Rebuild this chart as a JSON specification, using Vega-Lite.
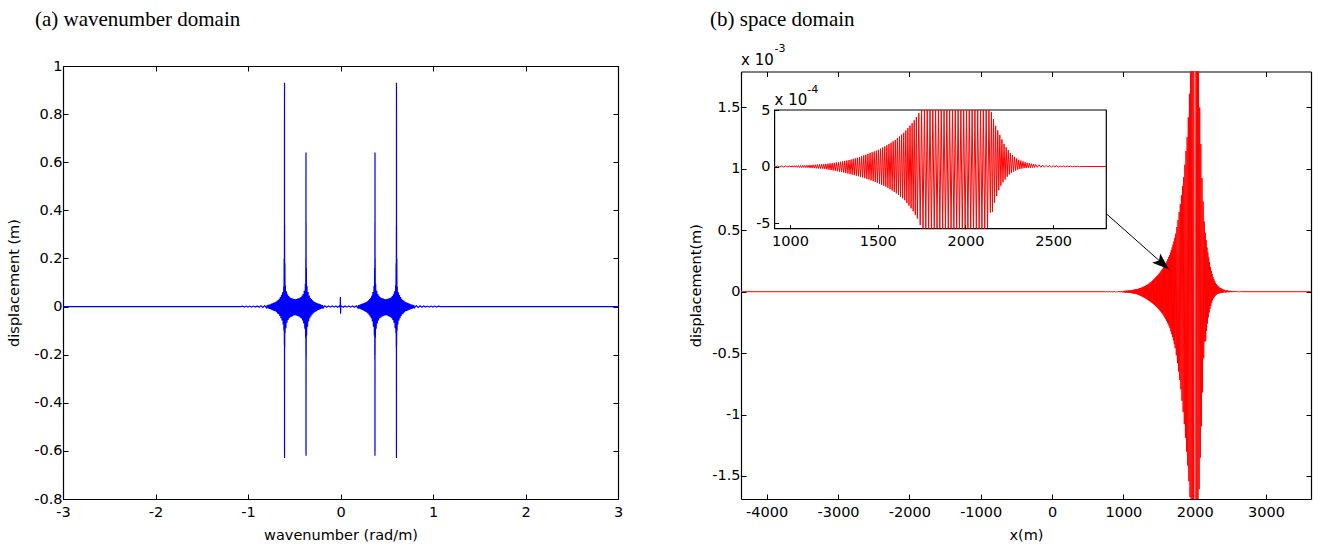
{
"$schema": "https://vega.github.io/schema/vega-lite/v6.json",
"background": "white",
"padding": {"left": 6, "top": 8, "right": 5, "bottom": 5},
"spacing": 65,
"config": {
 "view": {"stroke": null},
 "axis": {"grid": false, "domainColor": "#000", "domainWidth": 1.2, "tickColor": "#000", "tickWidth": 1, "tickSize": -5, "labelFont": "DejaVu Sans", "labelFontSize": 14.5, "labelColor": "#000", "labelFlush": false, "labelOverlap": false, "titleFont": "DejaVu Sans", "titleFontSize": 14.5, "titleFontWeight": "normal", "titleColor": "#000"},
 "axisX": {"labelPadding": 11, "titlePadding": 10},
 "axisY": {"labelPadding": 6},
 "title": {"anchor": "start", "frame": "group", "font": "Liberation Serif", "fontSize": 21, "fontWeight": "normal", "color": "#000"},
 "text": {"font": "DejaVu Sans", "color": "#000"}
},
"datasets": {
 "blue": [
  {"k":-3,"d":0},{"k":-1.08,"d":0},
  {"k":-1.06,"d":0.002},{"k":-1.04,"d":-0.002},{"k":-1.02,"d":0.002},{"k":-1.0,"d":-0.002},{"k":-0.98,"d":0.002},{"k":-0.96,"d":-0.002},{"k":-0.94,"d":0.002},{"k":-0.92,"d":-0.002},{"k":-0.9,"d":0.0025},{"k":-0.88,"d":-0.003},{"k":-0.86,"d":0.003},{"k":-0.84,"d":-0.0035},{"k":-0.82,"d":0.004},{"k":-0.8,"d":-0.0045},
  {"k":-0.794,"d":0.005},{"k":-0.788,"d":-0.0066},{"k":-0.782,"d":0.007},{"k":-0.776,"d":-0.0083},{"k":-0.77,"d":0.008},{"k":-0.764,"d":-0.0099},{"k":-0.758,"d":0.0095},{"k":-0.752,"d":-0.0116},{"k":-0.746,"d":0.012},{"k":-0.74,"d":-0.0143},{"k":-0.734,"d":0.014},{"k":-0.728,"d":-0.0165},{"k":-0.722,"d":0.016},{"k":-0.716,"d":-0.0187},{"k":-0.71,"d":0.0175},{"k":-0.704,"d":-0.0198},{"k":-0.698,"d":0.02},{"k":-0.692,"d":-0.0231},{"k":-0.686,"d":0.024},{"k":-0.68,"d":-0.0286},{"k":-0.674,"d":0.027},{"k":-0.668,"d":-0.0319},{"k":-0.662,"d":0.032},{"k":-0.656,"d":-0.0396},{"k":-0.65,"d":0.04},{"k":-0.644,"d":-0.0484},{"k":-0.638,"d":0.048},{"k":-0.632,"d":-0.0583},{"k":-0.626,"d":0.059},{"k":-0.62,"d":-0.0748},{"k":-0.614,"d":0.082},
  {"k":-0.612,"d":-0.1},{"k":-0.609,"d":0.2},{"k":-0.607,"d":-0.16},{"k":-0.606,"d":0.35},{"k":-0.6054,"d":0.9},{"k":-0.6052,"d":-0.6},{"k":-0.605,"d":0.93},{"k":-0.6048,"d":-0.63},{"k":-0.604,"d":0.34},{"k":-0.603,"d":-0.17},{"k":-0.601,"d":0.18},{"k":-0.599,"d":-0.11},
  {"k":-0.596,"d":0.088},{"k":-0.59,"d":-0.09},{"k":-0.584,"d":0.064},{"k":-0.578,"d":-0.067},{"k":-0.572,"d":0.051},{"k":-0.566,"d":-0.056},{"k":-0.56,"d":0.044},{"k":-0.554,"d":-0.049},{"k":-0.548,"d":0.039},{"k":-0.542,"d":-0.044},{"k":-0.536,"d":0.036},{"k":-0.53,"d":-0.042},{"k":-0.524,"d":0.034},{"k":-0.518,"d":-0.04},{"k":-0.512,"d":0.032},{"k":-0.506,"d":-0.037},{"k":-0.5,"d":0.031},{"k":-0.494,"d":-0.036},{"k":-0.488,"d":0.03},{"k":-0.482,"d":-0.037},{"k":-0.476,"d":0.031},{"k":-0.47,"d":-0.038},{"k":-0.464,"d":0.033},{"k":-0.458,"d":-0.04},{"k":-0.452,"d":0.034},{"k":-0.446,"d":-0.042},{"k":-0.44,"d":0.037},{"k":-0.434,"d":-0.046},{"k":-0.428,"d":0.04},{"k":-0.422,"d":-0.05},{"k":-0.416,"d":0.045},{"k":-0.41,"d":-0.058},{"k":-0.404,"d":0.052},{"k":-0.398,"d":-0.07},{"k":-0.392,"d":0.066},{"k":-0.386,"d":-0.092},{"k":-0.38,"d":0.095},
  {"k":-0.377,"d":-0.13},{"k":-0.375,"d":0.2},{"k":-0.374,"d":-0.2},{"k":-0.3735,"d":0.36},{"k":-0.3732,"d":0.62},{"k":-0.3731,"d":-0.6},{"k":-0.373,"d":0.64},{"k":-0.3725,"d":-0.62},{"k":-0.372,"d":0.35},{"k":-0.371,"d":-0.22},{"k":-0.369,"d":0.16},{"k":-0.366,"d":-0.12},
  {"k":-0.362,"d":0.085},{"k":-0.356,"d":-0.084},{"k":-0.35,"d":0.06},{"k":-0.344,"d":-0.062},{"k":-0.338,"d":0.046},{"k":-0.332,"d":-0.049},{"k":-0.326,"d":0.037},{"k":-0.32,"d":-0.041},{"k":-0.314,"d":0.031},{"k":-0.308,"d":-0.034},{"k":-0.302,"d":0.026},{"k":-0.296,"d":-0.029},{"k":-0.29,"d":0.022},{"k":-0.284,"d":-0.025},{"k":-0.278,"d":0.019},{"k":-0.272,"d":-0.021},{"k":-0.266,"d":0.017},{"k":-0.26,"d":-0.019},{"k":-0.254,"d":0.015},{"k":-0.248,"d":-0.016},{"k":-0.242,"d":0.013},{"k":-0.236,"d":-0.014},{"k":-0.23,"d":0.011},{"k":-0.224,"d":-0.012},{"k":-0.218,"d":0.009},{"k":-0.212,"d":-0.01},{"k":-0.206,"d":0.007},{"k":-0.2,"d":-0.008},{"k":-0.194,"d":0.006},{"k":-0.188,"d":-0.006},
  {"k":-0.17,"d":0.003},{"k":-0.15,"d":-0.003},{"k":-0.13,"d":0.0025},{"k":-0.11,"d":-0.0025},{"k":-0.09,"d":0.0025},{"k":-0.07,"d":-0.0025},{"k":-0.05,"d":0.0025},{"k":-0.03,"d":-0.0025},{"k":-0.012,"d":0.0025},
  {"k":-0.004,"d":-0.003},{"k":-0.001,"d":0.04},{"k":0.001,"d":-0.03},{"k":0.004,"d":0.003},
  {"k":0.012,"d":0.0025},{"k":0.03,"d":-0.0025},{"k":0.05,"d":0.0025},{"k":0.07,"d":-0.0025},{"k":0.09,"d":0.0025},{"k":0.11,"d":-0.0025},{"k":0.13,"d":0.0025},{"k":0.15,"d":-0.003},{"k":0.17,"d":0.003},
  {"k":0.188,"d":-0.006},{"k":0.194,"d":0.006},{"k":0.2,"d":-0.008},{"k":0.206,"d":0.007},{"k":0.212,"d":-0.01},{"k":0.218,"d":0.009},{"k":0.224,"d":-0.012},{"k":0.23,"d":0.011},{"k":0.236,"d":-0.014},{"k":0.242,"d":0.013},{"k":0.248,"d":-0.016},{"k":0.254,"d":0.015},{"k":0.26,"d":-0.019},{"k":0.266,"d":0.017},{"k":0.272,"d":-0.021},{"k":0.278,"d":0.019},{"k":0.284,"d":-0.025},{"k":0.29,"d":0.022},{"k":0.296,"d":-0.029},{"k":0.302,"d":0.026},{"k":0.308,"d":-0.034},{"k":0.314,"d":0.031},{"k":0.32,"d":-0.041},{"k":0.326,"d":0.037},{"k":0.332,"d":-0.049},{"k":0.338,"d":0.046},{"k":0.344,"d":-0.062},{"k":0.35,"d":0.06},{"k":0.356,"d":-0.084},{"k":0.362,"d":0.085},
  {"k":0.366,"d":-0.12},{"k":0.369,"d":0.16},{"k":0.371,"d":-0.22},{"k":0.372,"d":0.35},{"k":0.3725,"d":-0.62},{"k":0.373,"d":0.64},{"k":0.3731,"d":-0.6},{"k":0.3732,"d":0.62},{"k":0.3735,"d":0.36},{"k":0.374,"d":-0.2},{"k":0.375,"d":0.2},{"k":0.377,"d":-0.13},
  {"k":0.38,"d":0.095},{"k":0.386,"d":-0.092},{"k":0.392,"d":0.066},{"k":0.398,"d":-0.07},{"k":0.404,"d":0.052},{"k":0.41,"d":-0.058},{"k":0.416,"d":0.045},{"k":0.422,"d":-0.05},{"k":0.428,"d":0.04},{"k":0.434,"d":-0.046},{"k":0.44,"d":0.037},{"k":0.446,"d":-0.042},{"k":0.452,"d":0.034},{"k":0.458,"d":-0.04},{"k":0.464,"d":0.033},{"k":0.47,"d":-0.038},{"k":0.476,"d":0.031},{"k":0.482,"d":-0.037},{"k":0.488,"d":0.03},{"k":0.494,"d":-0.036},{"k":0.5,"d":0.031},{"k":0.506,"d":-0.037},{"k":0.512,"d":0.032},{"k":0.518,"d":-0.04},{"k":0.524,"d":0.034},{"k":0.53,"d":-0.042},{"k":0.536,"d":0.036},{"k":0.542,"d":-0.044},{"k":0.548,"d":0.039},{"k":0.554,"d":-0.049},{"k":0.56,"d":0.044},{"k":0.566,"d":-0.056},{"k":0.572,"d":0.051},{"k":0.578,"d":-0.067},{"k":0.584,"d":0.064},{"k":0.59,"d":-0.09},{"k":0.596,"d":0.088},
  {"k":0.599,"d":-0.11},{"k":0.601,"d":0.18},{"k":0.603,"d":-0.17},{"k":0.604,"d":0.34},{"k":0.6048,"d":-0.63},{"k":0.605,"d":0.93},{"k":0.6052,"d":-0.6},{"k":0.6054,"d":0.9},{"k":0.606,"d":0.35},{"k":0.607,"d":-0.16},{"k":0.609,"d":0.2},{"k":0.612,"d":-0.1},
  {"k":0.614,"d":0.082},{"k":0.62,"d":-0.0748},{"k":0.626,"d":0.059},{"k":0.632,"d":-0.0583},{"k":0.638,"d":0.048},{"k":0.644,"d":-0.0484},{"k":0.65,"d":0.04},{"k":0.656,"d":-0.0396},{"k":0.662,"d":0.032},{"k":0.668,"d":-0.0319},{"k":0.674,"d":0.027},{"k":0.68,"d":-0.0286},{"k":0.686,"d":0.024},{"k":0.692,"d":-0.0231},{"k":0.698,"d":0.02},{"k":0.704,"d":-0.0198},{"k":0.71,"d":0.0175},{"k":0.716,"d":-0.0187},{"k":0.722,"d":0.016},{"k":0.728,"d":-0.0165},{"k":0.734,"d":0.014},{"k":0.74,"d":-0.0143},{"k":0.746,"d":0.012},{"k":0.752,"d":-0.0116},{"k":0.758,"d":0.0095},{"k":0.764,"d":-0.0099},{"k":0.77,"d":0.008},{"k":0.776,"d":-0.0083},{"k":0.782,"d":0.007},{"k":0.788,"d":-0.0066},{"k":0.794,"d":0.005},
  {"k":0.8,"d":-0.0045},{"k":0.82,"d":0.004},{"k":0.84,"d":-0.0035},{"k":0.86,"d":0.003},{"k":0.88,"d":-0.003},{"k":0.9,"d":0.0025},{"k":0.92,"d":-0.002},{"k":0.94,"d":0.002},{"k":0.96,"d":-0.002},{"k":0.98,"d":0.002},{"k":1.0,"d":-0.002},{"k":1.02,"d":0.002},{"k":1.04,"d":-0.002},{"k":1.06,"d":0.002},
  {"k":1.08,"d":0},{"k":3,"d":0}
 ],
 "red": [
  {"x":-4360,"u":0},{"x":750,"u":0},
  {"x":760,"u":0.01e-4},{"x":772,"u":-0.012e-4},{"x":784,"u":0.013e-4},{"x":796,"u":-0.014e-4},{"x":808,"u":0.016e-4},{"x":820,"u":-0.018e-4},{"x":832,"u":0.02e-4},{"x":844,"u":-0.021e-4},{"x":856,"u":0.023e-4},{"x":868,"u":-0.025e-4},{"x":880,"u":0.027e-4},{"x":892,"u":-0.028e-4},{"x":904,"u":0.031e-4},{"x":916,"u":-0.033e-4},{"x":928,"u":0.038e-4},{"x":940,"u":-0.039e-4},{"x":952,"u":0.046e-4},{"x":964,"u":-0.045e-4},{"x":976,"u":0.053e-4},{"x":988,"u":-0.049e-4},{"x":1000,"u":0.06e-4},
  {"x":1006,"u":-0.053e-4},{"x":1012,"u":0.066e-4},{"x":1018,"u":-0.059e-4},{"x":1024,"u":0.072e-4},{"x":1030,"u":-0.065e-4},{"x":1036,"u":0.078e-4},{"x":1042,"u":-0.071e-4},{"x":1048,"u":0.084e-4},{"x":1054,"u":-0.077e-4},{"x":1060,"u":0.09e-4},{"x":1066,"u":-0.083e-4},{"x":1072,"u":0.096e-4},{"x":1078,"u":-0.089e-4},{"x":1084,"u":0.102e-4},{"x":1090,"u":-0.095e-4},{"x":1096,"u":0.108e-4},{"x":1102,"u":-0.102e-4},{"x":1108,"u":0.119e-4},{"x":1114,"u":-0.117e-4},{"x":1120,"u":0.132e-4},{"x":1126,"u":-0.131e-4},{"x":1132,"u":0.145e-4},{"x":1138,"u":-0.146e-4},{"x":1144,"u":0.158e-4},{"x":1150,"u":-0.16e-4},{"x":1156,"u":0.172e-4},{"x":1162,"u":-0.174e-4},{"x":1168,"u":0.185e-4},{"x":1174,"u":-0.189e-4},{"x":1180,"u":0.198e-4},{"x":1186,"u":-0.203e-4},{"x":1192,"u":0.211e-4},{"x":1198,"u":-0.218e-4},{"x":1204,"u":0.228e-4},{"x":1210,"u":-0.248e-4},{"x":1216,"u":0.252e-4},{"x":1222,"u":-0.282e-4},{"x":1228,"u":0.276e-4},{"x":1234,"u":-0.315e-4},{"x":1240,"u":0.3e-4},{"x":1246,"u":-0.349e-4},{"x":1252,"u":0.325e-4},{"x":1258,"u":-0.382e-4},{"x":1264,"u":0.356e-4},{"x":1270,"u":-0.416e-4},{"x":1276,"u":0.388e-4},{"x":1282,"u":-0.45e-4},{"x":1288,"u":0.419e-4},{"x":1294,"u":-0.483e-4},{"x":1300,"u":0.45e-4},
  {"x":1306,"u":-0.524e-4},{"x":1312,"u":0.491e-4},{"x":1318,"u":-0.572e-4},{"x":1324,"u":0.532e-4},{"x":1330,"u":-0.62e-4},{"x":1336,"u":0.572e-4},{"x":1342,"u":-0.668e-4},{"x":1348,"u":0.613e-4},{"x":1354,"u":-0.716e-4},{"x":1360,"u":0.666e-4},{"x":1366,"u":-0.764e-4},{"x":1372,"u":0.721e-4},{"x":1378,"u":-0.812e-4},{"x":1384,"u":0.776e-4},{"x":1390,"u":-0.86e-4},{"x":1396,"u":0.832e-4},{"x":1402,"u":-0.91e-4},{"x":1408,"u":0.898e-4},{"x":1414,"u":-0.97e-4},{"x":1420,"u":0.97e-4},{"x":1426,"u":-1.03e-4},{"x":1432,"u":1.042e-4},{"x":1438,"u":-1.09e-4},{"x":1444,"u":1.114e-4},{"x":1450,"u":-1.15e-4},{"x":1456,"u":1.186e-4},{"x":1462,"u":-1.222e-4},{"x":1468,"u":1.258e-4},{"x":1474,"u":-1.294e-4},{"x":1480,"u":1.33e-4},{"x":1486,"u":-1.366e-4},{"x":1492,"u":1.402e-4},{"x":1498,"u":-1.438e-4},{"x":1504,"u":1.482e-4},{"x":1510,"u":-1.52e-4},{"x":1516,"u":1.578e-4},{"x":1522,"u":-1.604e-4},{"x":1528,"u":1.674e-4},{"x":1534,"u":-1.688e-4},{"x":1540,"u":1.77e-4},{"x":1546,"u":-1.772e-4},{"x":1552,"u":1.87e-4},{"x":1558,"u":-1.88e-4},{"x":1564,"u":1.99e-4},{"x":1570,"u":-2.0e-4},{"x":1576,"u":2.11e-4},{"x":1582,"u":-2.12e-4},{"x":1588,"u":2.23e-4},{"x":1594,"u":-2.24e-4},{"x":1600,"u":2.35e-4},
  {"x":1606,"u":-2.372e-4},{"x":1612,"u":2.506e-4},{"x":1618,"u":-2.516e-4},{"x":1624,"u":2.662e-4},{"x":1630,"u":-2.66e-4},{"x":1636,"u":2.818e-4},{"x":1642,"u":-2.804e-4},{"x":1648,"u":2.974e-4},{"x":1654,"u":-2.98e-4},{"x":1660,"u":3.18e-4},{"x":1666,"u":-3.22e-4},{"x":1672,"u":3.396e-4},{"x":1678,"u":-3.46e-4},{"x":1684,"u":3.612e-4},{"x":1690,"u":-3.7e-4},{"x":1696,"u":3.828e-4},{"x":1702,"u":-3.953e-4},{"x":1708,"u":4.087e-4},{"x":1714,"u":-4.273e-4},{"x":1720,"u":4.367e-4},{"x":1726,"u":-4.593e-4},
  {"x":1734,"u":4.73e-4},{"x":1742,"u":-5.18e-4},{"x":1750,"u":5.27e-4},{"x":1758,"u":-5.82e-4},{"x":1766,"u":5.84e-4},{"x":1774,"u":-6.5e-4},{"x":1782,"u":6.48e-4},{"x":1790,"u":-7.18e-4},{"x":1798,"u":7.12e-4},{"x":1806,"u":-7.95e-4},{"x":1814,"u":7.84e-4},{"x":1822,"u":-8.88e-4},{"x":1830,"u":8.58e-4},{"x":1838,"u":-9.8e-4},{"x":1846,"u":9.32e-4},{"x":1854,"u":-10.78e-4},{"x":1862,"u":10.34e-4},{"x":1870,"u":-11.9e-4},{"x":1878,"u":11.46e-4},{"x":1886,"u":-13.02e-4},{"x":1894,"u":12.58e-4},{"x":1902,"u":-14.16e-4},{"x":1910,"u":14.2e-4},{"x":1918,"u":-15.44e-4},{"x":1926,"u":16.12e-4},{"x":1934,"u":-16.72e-4},{"x":1942,"u":18.04e-4},{"x":1950,"u":-18e-4},{"x":1958,"u":19.96e-4},{"x":1966,"u":-20.24e-4},{"x":1974,"u":21.88e-4},{"x":1982,"u":-22.48e-4},{"x":1990,"u":23.8e-4},{"x":1998,"u":-24.7e-4},{"x":2006,"u":24.28e-4},{"x":2014,"u":-23.04e-4},{"x":2022,"u":22.36e-4},{"x":2030,"u":-20.8e-4},{"x":2038,"u":20.44e-4},{"x":2046,"u":-18.56e-4},{"x":2054,"u":18.2e-4},{"x":2062,"u":-16.08e-4},{"x":2070,"u":15e-4},{"x":2078,"u":-13.52e-4},{"x":2086,"u":12.02e-4},{"x":2094,"u":-10.96e-4},{"x":2102,"u":9.26e-4},{"x":2110,"u":-8.2e-4},{"x":2118,"u":7.34e-4},{"x":2126,"u":-5.42e-4},{"x":2134,"u":5.71e-4},{"x":2142,"u":-4.07e-4},
  {"x":2148,"u":4.8e-4},{"x":2154,"u":-4.0e-4},{"x":2160,"u":4.2e-4},{"x":2166,"u":-3.2e-4},{"x":2172,"u":3.6e-4},{"x":2178,"u":-2.6e-4},{"x":2184,"u":3.2e-4},{"x":2190,"u":-2.1e-4},{"x":2196,"u":2.8e-4},{"x":2202,"u":-1.7e-4},{"x":2208,"u":2.4e-4},{"x":2214,"u":-1.4e-4},{"x":2220,"u":2.0e-4},{"x":2226,"u":-1.15e-4},{"x":2232,"u":1.7e-4},{"x":2238,"u":-0.9e-4},{"x":2244,"u":1.45e-4},{"x":2250,"u":-0.7e-4},{"x":2256,"u":1.2e-4},{"x":2262,"u":-0.55e-4},{"x":2268,"u":1.02e-4},{"x":2274,"u":-0.45e-4},{"x":2280,"u":0.86e-4},{"x":2286,"u":-0.36e-4},{"x":2292,"u":0.72e-4},{"x":2298,"u":-0.28e-4},{"x":2304,"u":0.6e-4},{"x":2310,"u":-0.22e-4},{"x":2316,"u":0.52e-4},{"x":2322,"u":-0.18e-4},{"x":2328,"u":0.45e-4},{"x":2334,"u":-0.15e-4},{"x":2340,"u":0.38e-4},{"x":2346,"u":-0.13e-4},{"x":2352,"u":0.32e-4},{"x":2358,"u":-0.114e-4},{"x":2364,"u":0.29e-4},{"x":2370,"u":-0.104e-4},{"x":2376,"u":0.25e-4},{"x":2382,"u":-0.094e-4},{"x":2388,"u":0.22e-4},{"x":2394,"u":-0.085e-4},{"x":2400,"u":0.18e-4},
  {"x":2410,"u":-0.076e-4},{"x":2420,"u":0.152e-4},{"x":2430,"u":-0.068e-4},{"x":2440,"u":0.124e-4},{"x":2450,"u":-0.06e-4},{"x":2460,"u":0.102e-4},{"x":2470,"u":-0.052e-4},{"x":2480,"u":0.086e-4},{"x":2490,"u":-0.044e-4},{"x":2500,"u":0.07e-4},{"x":2510,"u":-0.038e-4},{"x":2520,"u":0.062e-4},{"x":2530,"u":-0.034e-4},{"x":2540,"u":0.054e-4},{"x":2550,"u":-0.03e-4},{"x":2560,"u":0.047e-4},{"x":2570,"u":-0.026e-4},{"x":2580,"u":0.041e-4},{"x":2590,"u":-0.022e-4},{"x":2600,"u":0.035e-4},{"x":2610,"u":-0.02e-4},{"x":2620,"u":0.03e-4},{"x":2630,"u":-0.018e-4},{"x":2640,"u":0.025e-4},{"x":2650,"u":-0.015e-4},{"x":2660,"u":0},{"x":3630,"u":0}
 ]
},
"hconcat": [
 {
  "width": 555, "height": 433,
  "title": {"text": "(a) wavenumber domain", "dx": -28, "offset": 28.5},
  "data": {"name": "blue"},
  "layer": [
   {"mark": {"type": "line", "color": "#0000ff", "strokeWidth": 1.2, "clip": true},
    "encoding": {
     "x": {"field": "k", "type": "quantitative", "scale": {"domain": [-3, 3], "nice": false, "zero": false}, "axis": {"orient": "bottom", "title": "wavenumber (rad/m)", "values": [-3,-2,-1,0,1,2,3], "labelExpr": "'' + datum.value"}},
     "y": {"field": "d", "type": "quantitative", "scale": {"domain": [-0.8, 1], "nice": false, "zero": false}, "axis": {"orient": "left", "title": "displacement (m)", "values": [-0.8,-0.6,-0.4,-0.2,0,0.2,0.4,0.6,0.8,1], "labelExpr": "'' + datum.value", "titlePadding": 12}}
    }},
   {"data": {"values": [{"k": -3, "d": -0.8}]},
    "mark": {"type": "point", "opacity": 0},
    "encoding": {
     "x": {"field": "k", "type": "quantitative", "axis": {"orient": "top", "labels": false, "title": null, "values": [-3,-2,-1,0,1,2,3]}},
     "y": {"field": "d", "type": "quantitative", "axis": {"orient": "right", "labels": false, "title": null, "values": [-0.8,-0.6,-0.4,-0.2,0,0.2,0.4,0.6,0.8,1]}}
    }}
  ],
  "resolve": {"axis": {"x": "independent", "y": "independent"}}
 },
 {
  "width": 570, "height": 433,
  "title": {"text": "(b) space domain", "dx": -31, "offset": 13.5},
  "data": {"name": "red"},
  "layer": [
   {"mark": {"type": "line", "color": "#ff0000", "strokeWidth": 1, "clip": true},
    "encoding": {
     "x": {"field": "x", "type": "quantitative", "scale": {"domain": [-4360, 3630], "nice": false, "zero": false}, "axis": {"orient": "bottom", "title": "x(m)", "values": [-4000,-3000,-2000,-1000,0,1000,2000,3000], "labelExpr": "'' + datum.value"}},
     "y": {"field": "u", "type": "quantitative", "scale": {"domain": [-0.001688, 0.001793], "range": [433, 5.5], "clamp": true, "nice": false, "zero": false}, "axis": {"orient": "left", "title": "displacement(m)", "values": [-0.0015,-0.001,-0.0005,0,0.0005,0.001,0.0015], "labelExpr": "'' + round(datum.value*10000)/10", "titlePadding": 8}}
    }},
   {"data": {"values": [{"xc": 2000, "lo": -0.001688, "hi": 0.001793}]},
    "mark": {"type": "rule", "color": "#ff8080", "strokeWidth": 1.5, "clip": true},
    "encoding": {
     "x": {"field": "xc", "type": "quantitative", "scale": {"domain": [-4360, 3630], "nice": false, "zero": false}, "axis": {"orient": "top", "offset": -5.5, "labels": false, "title": null, "values": [-4000,-3000,-2000,-1000,0,1000,2000,3000]}},
     "y": {"field": "lo", "type": "quantitative", "scale": {"domain": [-0.001688, 0.001793], "range": [433, 5.5], "nice": false, "zero": false}, "axis": {"orient": "right", "labels": false, "title": null, "values": [-0.0015,-0.001,-0.0005,0,0.0005,0.001,0.0015]}},
     "y2": {"field": "hi"}
    }},
   {"data": {"values": [{"x0": 912, "x1": 2803, "y0": -0.00055, "y1": 0.0005}]},
    "mark": {"type": "rect", "fill": null, "fillOpacity": 0, "stroke": "#000", "strokeWidth": 1.2},
    "encoding": {
     "x": {"field": "x0", "type": "quantitative", "scale": {"domain": [912, 2803], "range": [33.6, 365.3], "nice": false, "zero": false}, "axis": {"orient": "bottom", "offset": -270.3, "title": null, "values": [1000,1500,2000,2500], "labelExpr": "'' + datum.value", "tickSize": -4, "labelPadding": 10, "domain": false, "zindex": 1}},
     "x2": {"field": "x1"},
     "y": {"field": "y0", "type": "quantitative", "scale": {"domain": [-0.00055, 0.0005], "range": [162.7, 44], "nice": false, "zero": false}, "axis": {"orient": "left", "offset": -33.6, "title": null, "values": [-0.0005,0,0.0005], "labelExpr": "'' + round(datum.value*10000)", "tickSize": -4, "labelPadding": 8.5, "domain": false, "zindex": 1}},
     "y2": {"field": "y1"}
    }},
   {"mark": {"type": "line", "color": "#ff0000", "strokeWidth": 1},
    "encoding": {
     "x": {"field": "x", "type": "quantitative", "scale": {"domain": [912, 2803], "range": [33.6, 365.3], "nice": false, "zero": false, "clamp": true}, "axis": null},
     "y": {"field": "u", "type": "quantitative", "scale": {"domain": [-0.00055, 0.0005], "range": [162.7, 44], "nice": false, "zero": false, "clamp": true}, "axis": null}
    }},
   {"data": {"values": [{"xa": 770, "ya": 0.00063, "xb": 1640, "yb": 0.0001824}]},
    "mark": {"type": "rule", "color": "#000", "strokeWidth": 1},
    "encoding": {
     "x": {"field": "xa", "type": "quantitative", "scale": {"domain": [-4360, 3630], "nice": false, "zero": false}, "axis": null},
     "x2": {"field": "xb"},
     "y": {"field": "ya", "type": "quantitative", "scale": {"domain": [-0.001688, 0.001793], "range": [433, 5.5], "nice": false, "zero": false}, "axis": null},
     "y2": {"field": "yb"}
    }},
   {"data": {"values": [{"xb": 1640, "yb": 0.0001824}]},
    "mark": {"type": "point", "shape": "M0,0L-1,-0.36L-0.78,0L-1,0.36Z", "size": 1156, "angle": 41, "filled": true, "color": "#000", "opacity": 1},
    "encoding": {
     "x": {"field": "xb", "type": "quantitative", "scale": {"domain": [-4360, 3630], "nice": false, "zero": false}, "axis": null},
     "y": {"field": "yb", "type": "quantitative", "scale": {"domain": [-0.001688, 0.001793], "range": [433, 5.5], "nice": false, "zero": false}, "axis": null}
    }},
   {"data": {"values": [{"label": "x 10", "tx": -4360, "ty": 0.001842, "sz": "big"}, {"label": "-3", "tx": -3890, "ty": 0.001948, "sz": "small"}]},
    "mark": {"type": "text", "align": "left", "baseline": "alphabetic", "clip": false},
    "encoding": {
     "x": {"field": "tx", "type": "quantitative", "scale": {"domain": [-4360, 3630], "nice": false, "zero": false}, "axis": null},
     "y": {"field": "ty", "type": "quantitative", "scale": {"domain": [-0.001688, 0.001793], "range": [433, 5.5], "nice": false, "zero": false}, "axis": null},
     "text": {"field": "label"},
     "size": {"field": "sz", "type": "nominal", "scale": {"domain": ["big", "small"], "range": [15, 11]}, "legend": null}
    }},
   {"data": {"values": [{"label": "x 10", "tx": 912, "ty": 0.000548, "sz": "big"}, {"label": "-4", "tx": 1098, "ty": 0.00065, "sz": "small"}]},
    "mark": {"type": "text", "align": "left", "baseline": "alphabetic", "clip": false},
    "encoding": {
     "x": {"field": "tx", "type": "quantitative", "scale": {"domain": [912, 2803], "range": [33.6, 365.3], "nice": false, "zero": false}, "axis": null},
     "y": {"field": "ty", "type": "quantitative", "scale": {"domain": [-0.00055, 0.0005], "range": [162.7, 44], "nice": false, "zero": false}, "axis": null},
     "text": {"field": "label"},
     "size": {"field": "sz", "type": "nominal", "scale": {"domain": ["big", "small"], "range": [15, 11]}, "legend": null}
    }}
  ],
  "resolve": {"scale": {"x": "independent", "y": "independent", "size": "independent"}}
 }
]
}
